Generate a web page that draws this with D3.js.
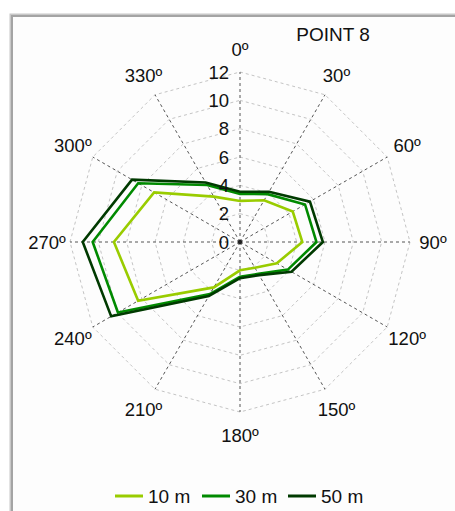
<!DOCTYPE html>
<html>
<head>
<meta charset="utf-8">
<script src="https://cdn.jsdelivr.net/npm/d3@7"></script>
<style>
  body { margin: 0; background: #fff; }
  text { font-family: "Liberation Sans", Arial, sans-serif; fill: #111; }
</style>
</head>
<body>
<script>
// directions (degrees, clockwise from north)
var angles = [0, 30, 60, 90, 120, 150, 180, 210, 240, 270, 300, 330]
var angleLabels = ["0º", "30º", "60º", "90º", "120º", "150º", "180º", "210º", "240º", "270º", "300º", "330º"]
var rTicks = [0, 2, 4, 6, 8, 10, 12]

// values, one per direction
var depth10 = [2.9, 3.4, 4.3, 4.4, 3.0, 2.1, 2.0, 3.7, 8.3, 8.9, 7.0, 3.7]
var depth30 = [3.4, 3.9, 5.3, 5.4, 3.9, 2.6, 2.45, 4.25, 9.95, 10.4, 8.3, 4.65]
var depth50 = [3.55, 4.1, 5.7, 5.85, 4.2, 2.7, 2.55, 4.4, 10.5, 11.1, 8.8, 4.85]

var seriesNames = ["10 m", "30 m", "50 m"]
var seriesColors = ["#99cc00", "#008a00", "#003a00"]

var width = 455, height = 511
var cx = 240, cy = 242

var svg = d3.select("body").append("svg")
  .attr("width", width)
  .attr("height", height)

// frame
svg.append("rect").attr("x", 10.5).attr("y", 14.5).attr("width", 460).attr("height", 520)
  .attr("fill", "#fdfdfd").attr("stroke", "#c8c8c8").attr("stroke-width", 2)
svg.append("rect").attr("x", 12).attr("y", 16).attr("width", 460).attr("height", 520)
  .attr("fill", "none").attr("stroke", "#a4a4a4").attr("stroke-width", 2)

var r = d3.scaleLinear().domain([0, 12]).range([0, 170])
var rad = function(a) { return a * Math.PI / 180 }

var g = svg.append("g").attr("transform", "translate(" + cx + "," + cy + ")")

// grid polygons
var ring = d3.lineRadial()
  .angle(function(d) { return rad(d.a) })
  .radius(function(d) { return r(d.v) })
  .curve(d3.curveLinearClosed)

g.selectAll(".ring")
  .data(rTicks.filter(function(t) { return t > 0 }))
  .enter().append("path")
  .attr("d", function(t) { return ring(angles.map(function(a) { return {a: a, v: t} })) })
  .attr("fill", "none")
  .attr("stroke", "#c4c4c4")
  .attr("stroke-dasharray", "3,3")
  .attr("stroke-width", 1)

// spokes
g.selectAll(".spoke")
  .data(angles)
  .enter().append("line")
  .attr("x1", 0).attr("y1", 0)
  .attr("x2", function(a) { return r(12) * Math.sin(rad(a)) })
  .attr("y2", function(a) { return -r(12) * Math.cos(rad(a)) })
  .attr("stroke", "#555")
  .attr("stroke-dasharray", "3,3")
  .attr("stroke-width", 1)

// series
var all = [depth10, depth30, depth50]
var line = d3.lineRadial()
  .angle(function(d, i) { return rad(angles[i]) })
  .radius(function(d) { return r(d) })
  .curve(d3.curveLinearClosed)

g.selectAll(".series")
  .data(all)
  .enter().append("path")
  .attr("d", function(d) { return line(d) })
  .attr("fill", "none")
  .attr("stroke", function(d, i) { return seriesColors[i] })
  .attr("stroke-width", 2.6)
  .attr("stroke-linejoin", "miter")

g.append("circle").attr("r", 2.2).attr("fill", "#222")

// radial tick labels
g.selectAll(".rtick")
  .data(rTicks)
  .enter().append("text")
  .attr("x", -11)
  .attr("y", function(t) { return -r(t) })
  .attr("dy", "0.36em")
  .attr("text-anchor", "end")
  .style("font-size", "18.5px")
  .text(function(t) { return t })

// direction labels
g.selectAll(".alabel")
  .data(angles)
  .enter().append("text")
  .attr("x", function(a, i) { return 193 * Math.sin(rad(a)) })
  .attr("y", function(a, i) { return -193 * Math.cos(rad(a)) })
  .attr("dy", "0.36em")
  .attr("text-anchor", "middle")
  .style("font-size", "18.5px")
  .text(function(a, i) { return angleLabels[i] })

svg.append("text")
  .attr("x", 333).attr("y", 41)
  .attr("text-anchor", "middle")
  .style("font-size", "19px")
  .text("POINT 8")

// legend
var lx = [115, 202, 288]
var leg = svg.selectAll(".leg")
  .data(seriesNames)
  .enter().append("g")
  .attr("transform", function(d, i) { return "translate(" + lx[i] + ",496)" })
leg.append("line")
  .attr("x1", 0).attr("x2", 28).attr("y1", 0).attr("y2", 0)
  .attr("stroke", function(d, i) { return seriesColors[i] })
  .attr("stroke-width", 3)
leg.append("text")
  .attr("x", 33).attr("dy", "0.36em")
  .style("font-size", "19px")
  .text(function(d) { return d })
</script>
</body>
</html>
